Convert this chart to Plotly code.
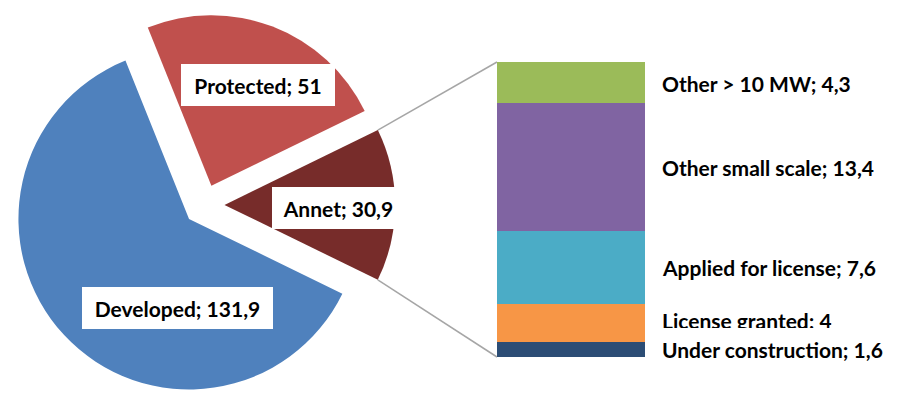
import math
import plotly.graph_objects as go

W, H = 899, 396

# Pie: total capacity split
pie_labels = ["Developed", "Protected", "Annet"]
pie_values = [131.9, 51, 30.9]
pie_colors = ["#4F81BD", "#C0504D", "#772C2A"]

# Breakdown of "Annet" (stacked from bottom to top)
bar_labels = ["Under construction", "License granted", "Applied for license",
              "Other small scale", "Other > 10 MW"]
bar_values = [1.6, 4, 7.6, 13.4, 4.3]
bar_colors = ["#2C4D75", "#F79646", "#4BACC6", "#8064A2", "#9BBB59"]


def fmt(v):
    return f"{v:g}".replace(".", ",")


FONT = dict(family="Lato, Open Sans, sans-serif", size=21, color="#000000")

# layout geometry (pixels)
pull = 0.12
pie_dom_x = [0.0034, 0.4505]
pie_dom_y = [0.0, 0.965]
bar_px_x = (497, 645)
bar_px_y = (62, 357)        # top, bottom
label_px_x = 662

total = sum(pie_values)
annet_frac = pie_values[-1] / total
rotation = 90 + 360 * annet_frac / 2

fig = go.Figure()

fig.add_trace(go.Pie(
    labels=pie_labels, values=pie_values, sort=False,
    direction="clockwise", rotation=rotation,
    pull=[pull] * len(pie_values),
    marker=dict(colors=pie_colors, line=dict(width=0)),
    textinfo="none", hoverinfo="label+value",
    domain=dict(x=pie_dom_x, y=pie_dom_y),
    showlegend=False,
))

for name, v, c in zip(bar_labels, bar_values, bar_colors):
    fig.add_trace(go.Bar(
        x=[0], y=[v], width=1, name=name,
        marker=dict(color=c, line=dict(width=0)),
        showlegend=False, hoverinfo="name+y",
    ))

bar_dom_x = [bar_px_x[0] / W, bar_px_x[1] / W]
bar_dom_y = [1 - bar_px_y[1] / H, 1 - bar_px_y[0] / H]
bar_total = sum(bar_values)

# connector lines from the "Annet" slice to the stacked bar
r = min(W * (pie_dom_x[1] - pie_dom_x[0]), H * (pie_dom_y[1] - pie_dom_y[0])) / 2 / (1 + pull)
cx = W * (pie_dom_x[0] + pie_dom_x[1]) / 2
cy = H * (1 - (pie_dom_y[0] + pie_dom_y[1]) / 2)
half = math.pi * annet_frac
vx = cx + pull * r
ex = vx + r * math.cos(half)
ey_top = cy - r * math.sin(half)
ey_bot = cy + r * math.sin(half)

shapes = []
for ey, by in ((ey_top, bar_dom_y[1]), (ey_bot, bar_dom_y[0])):
    shapes.append(dict(type="line", xref="paper", yref="paper",
                       x0=ex / W, y0=1 - ey / H, x1=bar_dom_x[0], y1=by,
                       line=dict(color="#A6A6A6", width=1.5), layer="below"))

annotations = []
# pie labels in white boxes
pie_label_px = {"Protected": (258, 85, 140), "Annet": (338, 208, 118),
                "Developed": (177.5, 308, 177)}
for name, v in zip(pie_labels, pie_values):
    px, py, w = pie_label_px[name]
    annotations.append(dict(
        text=f"<b>{name}; {fmt(v)}</b>", x=px / W, y=1 - py / H,
        xref="paper", yref="paper", xanchor="center", yanchor="middle",
        showarrow=False, font=FONT, bgcolor="#FFFFFF",
        borderpad=7, borderwidth=0, width=w, height=28,
    ))

# bar labels at segment middles
label_shift = {"License granted": 3}
cum = 0
for name, v in zip(bar_labels, bar_values):
    annotations.append(dict(
        text=f"<b>{name}; {fmt(v)}</b>", x=(label_px_x - 7) / W, y=cum + v / 2,
        xref="paper", yref="y", xanchor="left", yanchor="middle",
        showarrow=False, font=FONT, bgcolor="#FFFFFF", align="left",
        borderpad=7, borderwidth=0, height=28,
        yshift=label_shift.get(name, 0),
    ))
    cum += v
# draw the lower labels last so their boxes sit on top
annotations = annotations[:3] + annotations[3:][::-1]

fig.update_layout(
    width=W, height=H, margin=dict(l=0, r=0, t=0, b=0),
    paper_bgcolor="#FFFFFF", plot_bgcolor="rgba(0,0,0,0)",
    barmode="stack", bargap=0,
    xaxis=dict(domain=bar_dom_x, range=[-0.5, 0.5], visible=False, fixedrange=True),
    yaxis=dict(domain=bar_dom_y, range=[0, bar_total], visible=False, fixedrange=True),
    shapes=shapes, annotations=annotations,
    font=FONT,
)

fig.write_html("out.html")
